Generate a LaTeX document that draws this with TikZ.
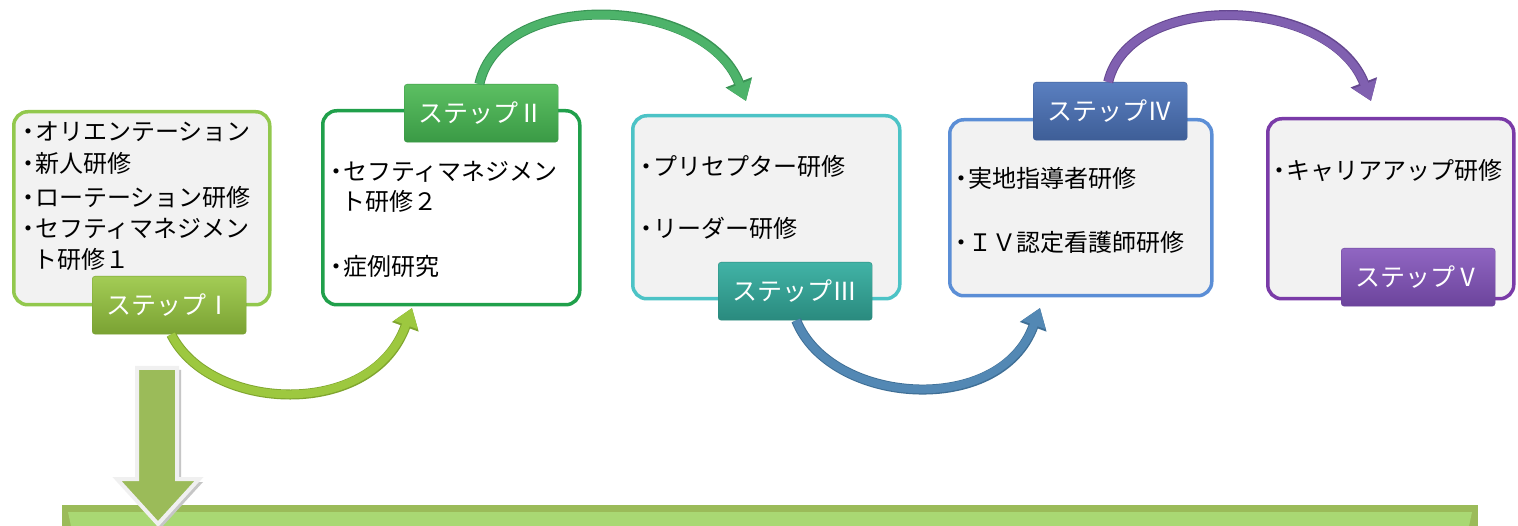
\documentclass[tikz,border=0pt]{standalone}
\usepackage{fontspec}
\setmainfont{Noto Sans CJK JP}
\usetikzlibrary{arrows.meta}
\definecolor{boxfill}{HTML}{F2F2F2}
\definecolor{bdA}{HTML}{92C84D}
\definecolor{bdB}{HTML}{20A04B}
\definecolor{bdC}{HTML}{4CC3C6}
\definecolor{bdD}{HTML}{5B8ED6}
\definecolor{bdE}{HTML}{7A3BA8}
\definecolor{lAt}{HTML}{A3CC55}\definecolor{lAb}{HTML}{7AA233}
\definecolor{lBt}{HTML}{5CBF62}\definecolor{lBb}{HTML}{3A9A45}
\definecolor{lCt}{HTML}{41B3A6}\definecolor{lCb}{HTML}{2A8A7E}
\definecolor{lDt}{HTML}{5A7FC0}\definecolor{lDb}{HTML}{3E5E97}
\definecolor{lEt}{HTML}{9066C2}\definecolor{lEb}{HTML}{6C449C}
\definecolor{arA}{HTML}{9DC83F}\definecolor{arAd}{HTML}{7FA52E}
\definecolor{arB}{HTML}{4DB36A}\definecolor{arBd}{HTML}{3A9455}
\definecolor{arC}{HTML}{5388B4}\definecolor{arCd}{HTML}{3F6F96}
\definecolor{arD}{HTML}{8060B0}\definecolor{arDd}{HTML}{654790}
\definecolor{bandout}{HTML}{9BBB59}
\definecolor{bandin}{HTML}{A9D873}
\newcommand\bul{\makebox[13pt][c]{・}}
\begin{document}
\begin{tikzpicture}[x=1pt,y=-1pt,
  stepbox/.style={draw, line width=3.5pt, rounded corners=14pt, fill=boxfill, anchor=north west, inner sep=0pt},
  steplabel/.style={rounded corners=3pt, text=white, inner sep=0pt, anchor=north west,
     font=\fontsize{25}{25}\selectfont, minimum width=154pt, minimum height=58pt},
  item/.style={anchor=west, inner sep=0pt, font=\fontsize{24}{24}\selectfont, text=black},
  curvearrow/.style={line width=8pt, -{Triangle[width=24pt,length=18pt]}}
]
\useasboundingbox (0,0) rectangle (1518,526);
\fill[white] (0,0) rectangle (1518,526);

% content boxes
\node[stepbox, draw=bdA, minimum width=256pt, minimum height=193pt] (b1) at (12,110) {};
\node[stepbox, draw=bdB, fill=white, minimum width=257pt, minimum height=194pt] (b2) at (321,109) {};
\node[stepbox, draw=bdC, minimum width=267pt, minimum height=183pt] (b3) at (631,114) {};
\node[stepbox, draw=bdD, minimum width=262pt, minimum height=176pt] (b4) at (948,118) {};
\node[stepbox, draw=bdE, minimum width=246pt, minimum height=180pt] (b5) at (1266,117) {};

% texts
\node[item] (t11) at (22,132) {\bul オリエンテーション};
\node[item] (t12) at (22,163) {\bul 新人研修};
\node[item] (t13) at (22,197) {\bul ローテーション研修};
\node[item] (t14) at (22,229) {\bul セフティマネジメン};
\node[item] (t15) at (33,259) {ト研修１};

\node[item] (t21) at (330,172) {\bul セフティマネジメン};
\node[item] (t22) at (341,201) {ト研修２};
\node[item] (t23) at (330,266) {\bul 症例研究};

\node[item] (t31) at (640,166) {\bul プリセプター研修};
\node[item] (t32) at (640,228) {\bul リーダー研修};

\node[item] (t41) at (955,178) {\bul 実地指導者研修};
\node[item] (t42) at (955,242) {\bul ＩＶ認定看護師研修};

\node[item] (t51) at (1273,170) {\bul キャリアアップ研修};

% step labels
\node[steplabel, top color=lAt, bottom color=lAb, draw=lAb] (s1) at (92,276) {ステップⅠ};
\node[steplabel, top color=lBt, bottom color=lBb, draw=lBb] (s2) at (404,84) {ステップⅡ};
\node[steplabel, top color=lCt, bottom color=lCb, draw=lCb] (s3) at (718,262) {ステップⅢ};
\node[steplabel, top color=lDt, bottom color=lDb, draw=lDb] (s4) at (1033,82) {ステップⅣ};
\node[steplabel, top color=lEt, bottom color=lEb, draw=lEb] (s5) at (1341,248) {ステップⅤ};

% arrow end points
\coordinate (e1) at (412,308);
\coordinate (e2) at (746,101);
\coordinate (e3) at (1040,308);
\coordinate (e4) at (1371,101);

\draw[curvearrow, arA, preaction={draw=arAd, line width=10pt, -{Triangle[width=27pt,length=20pt]}}]
  ([xshift=2pt]s1.south) .. controls (210,412) and (372,420) .. (e1);
\draw[curvearrow, arB, preaction={draw=arBd, line width=10pt, -{Triangle[width=27pt,length=20pt]}}]
  ([xshift=-3pt]s2.north east) ++(-76,0) .. controls (500,-12) and (705,-5) .. (e2);
\draw[curvearrow, arC, preaction={draw=arCd, line width=10pt, -{Triangle[width=27pt,length=20pt]}}]
  ([xshift=1pt]s3.south) .. controls (830,405) and (1000,418) .. (e3);
\draw[curvearrow, arD, preaction={draw=arDd, line width=10pt, -{Triangle[width=27pt,length=20pt]}}]
  ([xshift=-1pt]s4.north) ++(-1,0) .. controls (1130,-10) and (1330,-5) .. (e4);

% bottom band
\fill[bandout] (62,505) rectangle (1478,540);
\fill[bandin] (68,512) -- (1472,512) -- (1466,540) -- (74,540) -- cycle;

% down block arrow
\fill[gray!45] (141,370) -- (181,370) -- (181,482) -- (203,482) -- (161,528) -- (119,482) -- (141,482) -- cycle;
\filldraw[fill=bandout, draw=white!94!black, line width=4pt, line join=miter]
  (137,368) -- (177,368) -- (177,479) -- (199,479) -- (158,524) -- (117,479) -- (137,479) -- cycle;
\end{tikzpicture}
\end{document}
